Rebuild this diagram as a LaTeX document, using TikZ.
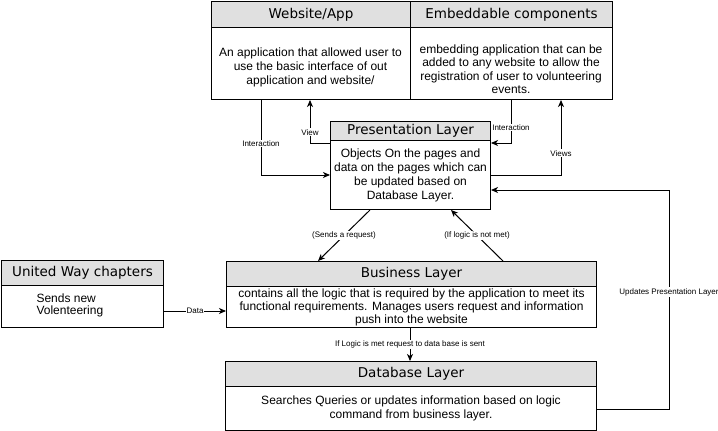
\documentclass[tikz,border=0pt]{standalone}
\usepackage{fontspec}
\setmainfont{Liberation Sans}
\newfontfamily\hdrfamily{DejaVu Sans}
\usetikzlibrary{arrows.meta,calc}
\definecolor{hdrgray}{RGB}{224,224,224}
\begin{document}
\begin{tikzpicture}[x=1pt,y=-1pt, line width=1pt,
 hdr/.style={draw, fill=hdrgray, anchor=north west, inner sep=0pt, font=\hdrfamily\fontsize{13.5}{16}\selectfont},
 bodybox/.style={draw, fill=white, anchor=north west, inner sep=0pt, align=center, font=\fontsize{12}{14}\selectfont},
 bodytext/.style={inner sep=0pt, align=center, font=\fontsize{12}{14}\selectfont},
 lbl/.style={fill=white, inner sep=1pt, font=\fontsize{8}{9}\selectfont},
 arr/.style={draw, -{Stealth[length=7pt,width=6pt,inset=2pt]}}]
\useasboundingbox (0,0) rectangle (718,431);

% Website/App
\node[hdr, minimum width=199pt, minimum height=26pt] (wsh) at (211,1) {Website/App};
\node[bodybox, minimum width=199pt, minimum height=72pt] (wsb) at (211,27) {};
\node[bodytext] (wst) at (310.5,67) {An application that allowed user to\\use the basic interface of out\\application and website/};

% Embeddable components
\node[hdr, minimum width=202pt, minimum height=26pt] (emh) at (410,1) {Embeddable components};
\node[bodybox, minimum width=202pt, minimum height=72pt] (emb) at (410,27) {};
\node[bodytext, font=\fontsize{12}{13.5}\selectfont] (emt) at (511,69) {embedding application that can be\\added to any website to allow the\\registration of user to volunteering\\events.};

% Presentation Layer
\node[hdr, minimum width=160pt, minimum height=19pt] (prh) at (330,121) {Presentation Layer};
\node[bodybox, minimum width=160pt, minimum height=69pt] (prb) at (330,140) {Objects On the pages and\\data on the pages which can\\be updated based on\\Database Layer.};

% United Way chapters
\node[hdr, minimum width=162pt, minimum height=25pt] (uwh) at (1,260) {United Way chapters};
\node[bodybox, minimum width=162pt, minimum height=42pt] (uwb) at (1,285) {};
\node[bodytext, align=left, anchor=west, font=\fontsize{12}{12}\selectfont] (uwt) at (36,305.5) {Sends new\\Volenteering};

% Business Layer
\node[hdr, minimum width=370pt, minimum height=25pt] (buh) at (226,261) {Business Layer};
\node[bodybox, minimum width=370pt, minimum height=41pt, font=\fontsize{12}{13}\selectfont] (bub) at (226,286) {contains all the logic that is required by the application to meet its\\functional requirements. Manages users request and information\\push into the website};

% Database Layer
\node[hdr, minimum width=371pt, minimum height=25pt] (dbh) at (225,361) {Database Layer};
\node[bodybox, minimum width=371pt, minimum height=44pt] (dbb) at (225,386) {Searches Queries or updates information based on logic\\command from business layer.};

% Connectors
\draw[arr] ($(wsb.south west)+(50,0)$) |- node[lbl, pos=0.29] (l1) {Interaction} ($(prb.north west)+(0,35)$);
\draw[arr] ($(prb.north west)+(0,3)$) -| node[lbl, pos=0.625] (l2) {View} ($(wsb.south west)+(99,0)$);
\draw[arr] ($(emb.south west)+(101,0)$) |- node[lbl, pos=0.32] (l3) {Interaction} ($(prb.north east)+(0,3)$);
\draw[arr] ($(prb.north east)+(0,35)$) -| node[lbl, pos=0.645] (l4) {Views} ($(emb.south west)+(151,0)$);
\coordinate (upd) at (669,190);
\draw[arr] ($(dbb.north east)+(0,23)$) -| node[lbl, pos=0.767] (l5) {Updates Presentation Layer} (upd) -- ($(prb.north east)+(0,50)$);
\draw[arr] ($(uwb.north east)+(0,26)$) -- node[lbl] (l6) {Data} ($(bub.north west)+(0,25)$);
\draw[arr] ($(prb.south west)+(40,0)$) -- node[lbl] (l7) {(Sends a request)} ($(buh.north west)+(92,0)$);
\draw[arr] ($(buh.north west)+(277,0)$) -- node[lbl] (l8) {(If logic is not met)} ($(prb.south west)+(121,0)$);
\draw[arr] ($(bub.south west)+(184,0)$) -- node[lbl] (l9) {If Logic is met request to data base is sent} ($(dbh.north west)+(185,0)$);
\end{tikzpicture}
\end{document}
